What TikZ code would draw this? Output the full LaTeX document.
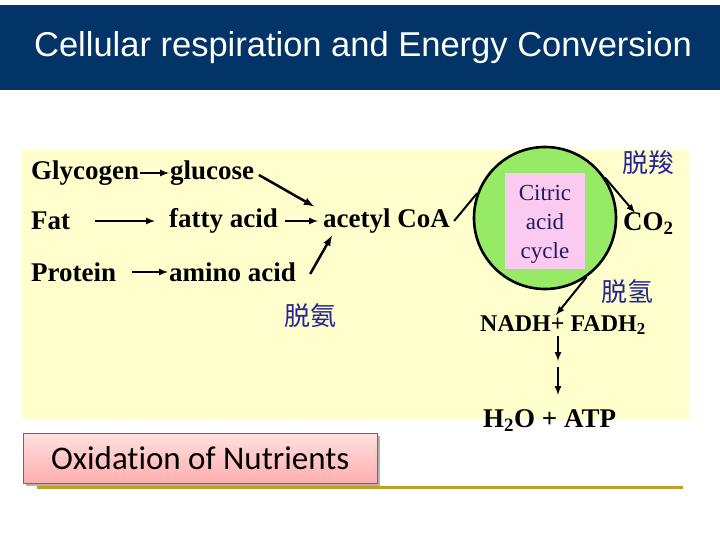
\documentclass[tikz,border=0pt]{standalone}
\usepackage{fontspec}
\setmainfont{Liberation Serif}
\newfontfamily\titlefont{Liberation Sans}
\newfontfamily\calfont[Ligatures=NoCommon]{Carlito}
\newfontfamily\cjk{Noto Sans CJK SC}
\usetikzlibrary{arrows}

\definecolor{headblue}{RGB}{3,52,104}
\definecolor{paleyellow}{RGB}{255,255,206}
\definecolor{cyclegreen}{RGB}{150,234,102}
\definecolor{cyclepink}{RGB}{250,202,240}
\definecolor{inkblue}{RGB}{36,36,150}
\definecolor{navytext}{RGB}{28,28,100}
\definecolor{boxred}{RGB}{170,80,80}
\definecolor{goldline}{RGB}{192,160,40}

\tikzset{
  molecule/.style={anchor=west, inner sep=1pt, font=\fontsize{27}{30}\selectfont\bfseries},
  enzyme/.style={inner sep=1pt, text=inkblue, font=\fontsize{26}{28}\selectfont\cjk},
  arr/.style={-latex, line width=2pt},
}

\begin{document}
\begin{tikzpicture}[x=1pt, y=-1pt]
\useasboundingbox (0,0) rectangle (720,540);

% Title bar
\fill[headblue] (0,5) rectangle (720,90);
\node[text=white, font=\fontsize{34.5}{38}\selectfont\titlefont] (title) at (363,48) {Cellular respiration and Energy Conversion};

% Yellow panel
\fill[paleyellow] (22,150) rectangle (690,420);

% Left column: nutrients
\node[molecule] (glycogen) at (30,173) {Glycogen};
\node[molecule] (glucose) at (169,173) {glucose};
\node[molecule] (fat) at (30,221) {Fat};
\node[molecule] (fatty) at (168,221) {fatty acid};
\node[molecule] (acetyl) at (322,221) {acetyl CoA};
\node[molecule] (protein) at (30,272) {Protein};
\node[molecule] (amino) at (168,272) {amino acid};
\node[enzyme] (deamin) at (310,316) {脱氨};

\draw[arr] (glycogen) -- (glucose);
\draw[arr, shorten <=24pt, shorten >=13pt] (fat) -- (fatty);
\draw[arr, shorten <=6pt, shorten >=4pt] (fatty) -- (acetyl);
\draw[arr, shorten <=15pt] (protein) -- (amino);
\draw[arr, line width=2.5pt, shorten <=4pt, shorten >=2pt] (glucose.east) -- ([xshift=-6pt]acetyl.north west);
\draw[arr, line width=2.5pt] ([xshift=13pt,yshift=-2pt]amino.east) -- ([xshift=10pt,yshift=-1pt]acetyl.south west);

% Citric acid cycle
\node[circle, draw, line width=2.6pt, fill=cyclegreen, minimum size=142pt] (cycle) at (545,218) {};
\node[fill=cyclepink, minimum width=80pt, minimum height=95pt] (citric) at (545,221) {};
\node[align=center, text=navytext, font=\fontsize{23}{29}\selectfont] (citrictext) at (545,224) {Citric\\acid\\cycle};
\draw[line width=2pt] ([xshift=3pt]acetyl.east) -- (cycle.160);

\node[enzyme] (decarb) at (648,163) {脱羧};
\node[molecule] (co2) at (622,224) {CO\textsubscript{2}};
\draw[arr] (cycle.34) -- ([xshift=13pt,yshift=-1pt]co2.north west);

\node[enzyme] (dehyd) at (627,292) {脱氢};
\node[molecule, font=\fontsize{24}{26}\selectfont\bfseries] (nadh) at (479,325) {NADH+ FADH\textsubscript{2}};
\draw[arr] (cycle.-55) -- ([xshift=77pt,yshift=-1pt]nadh.north west);

% Respiratory chain
\coordinate (mid) at (558,364);
\node[molecule] (atp) at (482,421) {H\textsubscript{2}O + ATP};
\draw[arr] (nadh.south -| mid) -- ([yshift=3pt]mid);
\draw[arr] ([yshift=-3pt]mid) -- ([yshift=14pt]atp.north -| mid);

% Caption box with shadow and rule
\fill[gray!60] (26,436) rectangle (380,486);
\node[anchor=north west, draw=boxred, line width=0.6pt, top color=red!12, bottom color=red!32,
      minimum width=354pt, minimum height=50pt, text=black,
      font=\fontsize{33}{36}\selectfont\calfont] (oxid) at (23,433) {Oxidation of Nutrients};
\draw[goldline, line width=3pt] ([xshift=14pt,yshift=-4pt]oxid.south west) -- ++(646,0);

\end{tikzpicture}
\end{document}
